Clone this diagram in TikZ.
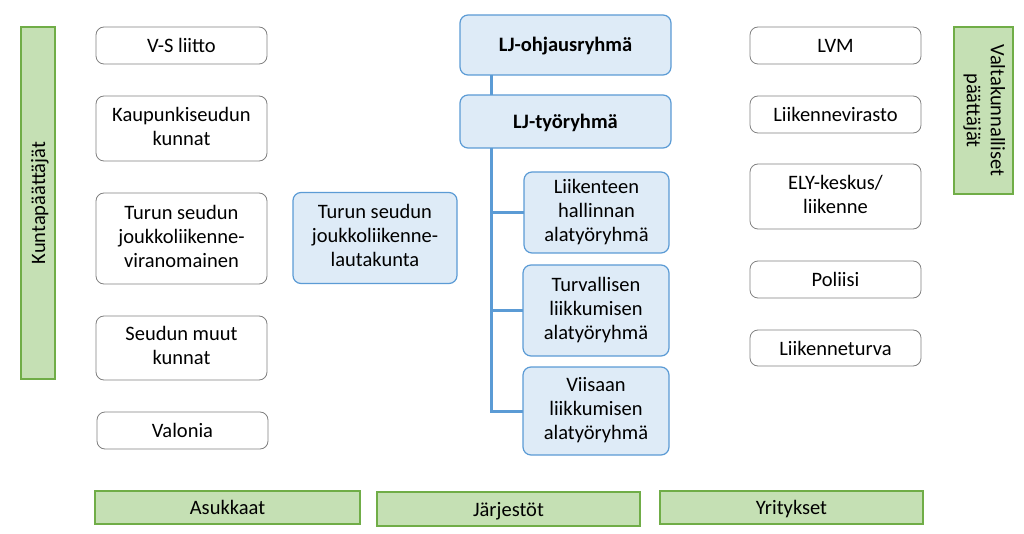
\documentclass[tikz,border=0pt]{standalone}
\usepackage{fontspec}
\setmainfont{Carlito}
\newcommand{\mystrut}{\rule[-5pt]{0pt}{24pt}}
\begin{document}
\begin{tikzpicture}[x=1pt,y=-1pt,
  every node/.style={inner sep=0pt,outer sep=0pt,align=center,font=\fontsize{20.5}{24}\selectfont,
    execute at begin node={\mystrut},execute at end node={\mystrut}},
  wbox/.style={draw=black!50,line width=0.8pt,fill=white,rounded corners=8pt},
  bbox/.style={draw=lineblue,line width=1.2pt,fill=fillblue,rounded corners=8pt},
  gbox/.style={draw=linegreen,line width=1.2pt,fill=fillgreen},
  conn/.style={draw=lineblue,line width=3pt}]
\definecolor{lineblue}{HTML}{5B9BD5}
\definecolor{fillblue}{HTML}{DEEBF7}
\definecolor{linegreen}{HTML}{70AD47}
\definecolor{fillgreen}{HTML}{C5E0B4}
\useasboundingbox (0,0) rectangle (1024,534);
% left column
\node[gbox,minimum width=352pt,minimum height=34pt,rotate=90] (kunta) at (38,203) {Kuntapäättäjät};
\node[wbox,minimum width=171pt,minimum height=37pt] (vs) at (181.5,45.5) {V-S liitto};
\node[wbox,minimum width=171pt,minimum height=65pt] (kaup) at (181.5,128.5) {Kaupunkiseudun\\kunnat};
\node[wbox,minimum width=171pt,minimum height=91pt] (jlv) at (181.5,238.5) {Turun seudun\\joukkoliikenne-\\viranomainen};
\node[wbox,minimum width=171pt,minimum height=64pt] (muut) at (181.5,348) {Seudun muut\\kunnat};
\node[wbox,minimum width=171pt,minimum height=37pt] (val) at (182.5,430.5) {Valonia};
% bottom
\node[gbox,minimum width=265pt,minimum height=33pt] (asuk) at (227.5,507.5) {Asukkaat};
\node[gbox,minimum width=263pt,minimum height=34pt] (jarj) at (508.5,509) {Järjestöt};
\node[gbox,minimum width=263pt,minimum height=33pt] (yrit) at (791.5,507.5) {Yritykset};
% centre
\node[bbox,minimum width=211pt,minimum height=60pt,font=\fontsize{20.5}{24}\selectfont\bfseries] (ohj) at (565.5,45) {LJ-ohjausryhmä};
\node[bbox,minimum width=211pt,minimum height=53pt,font=\fontsize{20.5}{24}\selectfont\bfseries] (tyo) at (565.5,121.5) {LJ-työryhmä};
\node[bbox,minimum width=164pt,minimum height=91pt] (lauta) at (375,238) {Turun seudun\\joukkoliikenne-\\lautakunta};
\node[bbox,minimum width=145pt,minimum height=81pt] (liik) at (596.5,212.5) {Liikenteen\\hallinnan\\alatyöryhmä};
\node[bbox,minimum width=146pt,minimum height=91pt] (turv) at (596,310.5) {Turvallisen\\liikkumisen\\alatyöryhmä};
\node[bbox,minimum width=146pt,minimum height=88pt] (viis) at (596,411) {Viisaan\\liikkumisen\\alatyöryhmä};
\coordinate (t) at (491,0);
\draw[conn] (ohj.south -| t) -- (tyo.north -| t);
\draw[conn] (tyo.south -| t) |- (viis.west);
\draw[conn] (t |- liik.west) -- (liik.west);
\draw[conn] (t |- turv.west) -- (turv.west);
% right column
\node[wbox,minimum width=171pt,minimum height=37pt] (lvm) at (835.5,45.5) {LVM};
\node[wbox,minimum width=171pt,minimum height=37pt] (lv) at (835.5,114.5) {Liikennevirasto};
\node[wbox,minimum width=171pt,minimum height=65pt] (ely) at (835.5,196.5) {ELY-keskus/\\liikenne};
\node[wbox,minimum width=171pt,minimum height=37pt] (pol) at (835.5,279.5) {Poliisi};
\node[wbox,minimum width=171pt,minimum height=36pt] (lt) at (835.5,348) {Liikenneturva};
\node[gbox,minimum width=167pt,minimum height=59pt,rotate=-90] (valt) at (983.5,110.5) {Valtakunnalliset\\päättäjät};
\end{tikzpicture}
\end{document}
